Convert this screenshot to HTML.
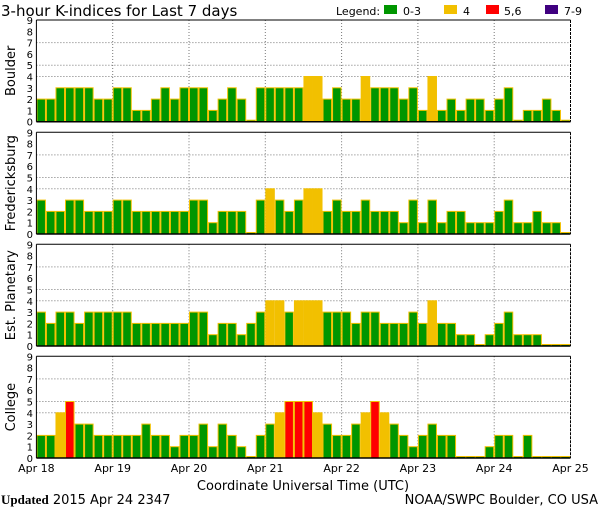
<!DOCTYPE html>
<html><head><meta charset="utf-8"><style>
body{margin:0;background:#fff}
svg{display:block;font-family:"DejaVu Sans","Liberation Sans",sans-serif}
</style></head><body>
<svg width="600" height="510" viewBox="0 0 600 510" id="chart">
<text x="1" y="16" font-size="15">3-hour K-indices for Last 7 days</text>
<g font-size="11">
<text x="336" y="15">Legend:</text>
<rect x="384" y="5" width="13" height="9" fill="#009600"/>
<text x="403" y="15">0-3</text>
<rect x="444" y="5" width="13" height="9" fill="#f2c000"/>
<text x="463" y="15">4</text>
<rect x="486" y="5" width="13" height="9" fill="#ff0000"/>
<text x="504" y="15">5,6</text>
<rect x="545" y="5" width="13" height="9" fill="#400080"/>
<text x="564" y="15">7-9</text>
</g>
<g id="panels"></g>
<g font-size="11" id="xaxis"></g>
<text x="303" y="490" font-size="13" text-anchor="middle">Coordinate Universal Time (UTC)</text>
<text x="1" y="504" font-size="13"><tspan font-weight="bold" font-family="Liberation Serif,serif">Updated</tspan> 2015 Apr 24 2347</text>
<text x="598" y="504" font-size="13" text-anchor="end">NOAA/SWPC Boulder, CO USA</text>
</svg>
<script>
const stations = ["Boulder","Fredericksburg","Est. Planetary","College"];
const boulder = [2,2,3,3,3,3,2,2, 3,3,1,1,2,3,2,3, 3,3,1,2,3,2,0,3, 3,3,3,3,4,4,2,3, 2,2,4,3,3,3,2,3, 1,4,1,2,1,2,2,1, 2,3,0,1,1,2,1,0];
const fredericksburg = [3,2,2,3,3,2,2,2, 3,3,2,2,2,2,2,2, 3,3,1,2,2,2,0,3, 4,3,2,3,4,4,2,3, 2,2,3,2,2,2,1,3, 1,3,1,2,2,1,1,1, 2,3,1,1,2,1,1,0];
const planetary = [3,2,3,3,2,3,3,3, 3,3,2,2,2,2,2,2, 3,3,1,2,2,1,2,3, 4,4,3,4,4,4,3,3, 3,2,3,3,2,2,2,3, 2,4,2,2,1,1,0,1, 2,3,1,1,1,0,0,0];
const college = [2,2,4,5,3,3,2,2, 2,2,2,3,2,2,1,2, 2,3,1,3,2,1,0,2, 3,4,5,5,5,4,3,2, 2,3,4,5,4,3,2,1, 2,3,2,2,0,0,0,1, 2,2,0,2,0,0,0,0];
const dayLabels = ["Apr 18","Apr 19","Apr 20","Apr 21","Apr 22","Apr 23","Apr 24","Apr 25"];
const yTicks = [0,1,2,3,4,5,6,7,8,9];
const gridLevels = [4,5,7];

const series=[boulder,fredericksburg,planetary,college];
const NS="http://www.w3.org/2000/svg";
const L=36.4,R=570.5,PH=101.7,tops=[20,132.3,244.3,356.3];
const n=56, bw=(R-L)/n, dw=(R-L)/7;
function xs(i){return L+i*bw;}
function mk(t,a,p){const e=document.createElementNS(NS,t);for(const k in a)e.setAttribute(k,a[k]);p.appendChild(e);return e;}
function color(v){return v<=3?"#009600":v==4?"#f2c000":v<=6?"#ff0000":"#400080";}
const pg=document.getElementById("panels");
series.forEach((data,p)=>{
  const top=tops[p],bot=top+PH;
  const ys=v=>bot-v*PH/9;
  const g=mk("g",{},pg);
  
  
  mk("rect",{x:L,y:top,width:R-L,height:PH,fill:"#fff"},g);
  gridLevels.forEach(v=>{const l=mk("line",{x1:L,x2:R,y1:ys(v),y2:ys(v),stroke:"#777","stroke-dasharray":"1,2"},g);
    });
  for(let d=1;d<7;d++){const l=mk("line",{x1:L+d*dw,x2:L+d*dw,y1:top,y2:bot,stroke:"#777","stroke-dasharray":"1,2"},g);
    }
  data.forEach((v,i)=>{
    const h=Math.max(v*PH/9,1.5);
    const r=mk("rect",{x:xs(i)+0.5,y:bot-h,width:bw-1,height:h,fill:color(v),stroke:"#f2c000","stroke-width":1},g);
    
    
  });
  mk("line",{x1:L,x2:R,y1:top,y2:top,stroke:"#000","stroke-width":1},g);
  mk("line",{x1:L,x2:R,y1:bot,y2:bot,stroke:"#000","stroke-width":1.5},g);
  mk("line",{x1:L,x2:L,y1:top,y2:bot,stroke:"#000","stroke-width":1},g);
  mk("line",{x1:R,x2:R,y1:top,y2:bot,stroke:"#000","stroke-width":1,"stroke-dasharray":"3,1"},g);
  yTicks.forEach(v=>{const t=mk("text",{x:33,y:ys(v)+4,"font-size":10,"text-anchor":"end"},g);t.textContent=v;
    });
  const cy=top+PH/2;
  const t=mk("text",{x:0,y:0,"font-size":13,"text-anchor":"middle",transform:`translate(15,${cy}) rotate(-90)`},g);
  t.textContent=stations[p];
  
});
const xa=document.getElementById("xaxis");
dayLabels.forEach((s,d)=>{const t=mk("text",{x:L+d*dw,y:472,"text-anchor":"middle"},xa);t.textContent=s;
  });
</script>
</body></html>
